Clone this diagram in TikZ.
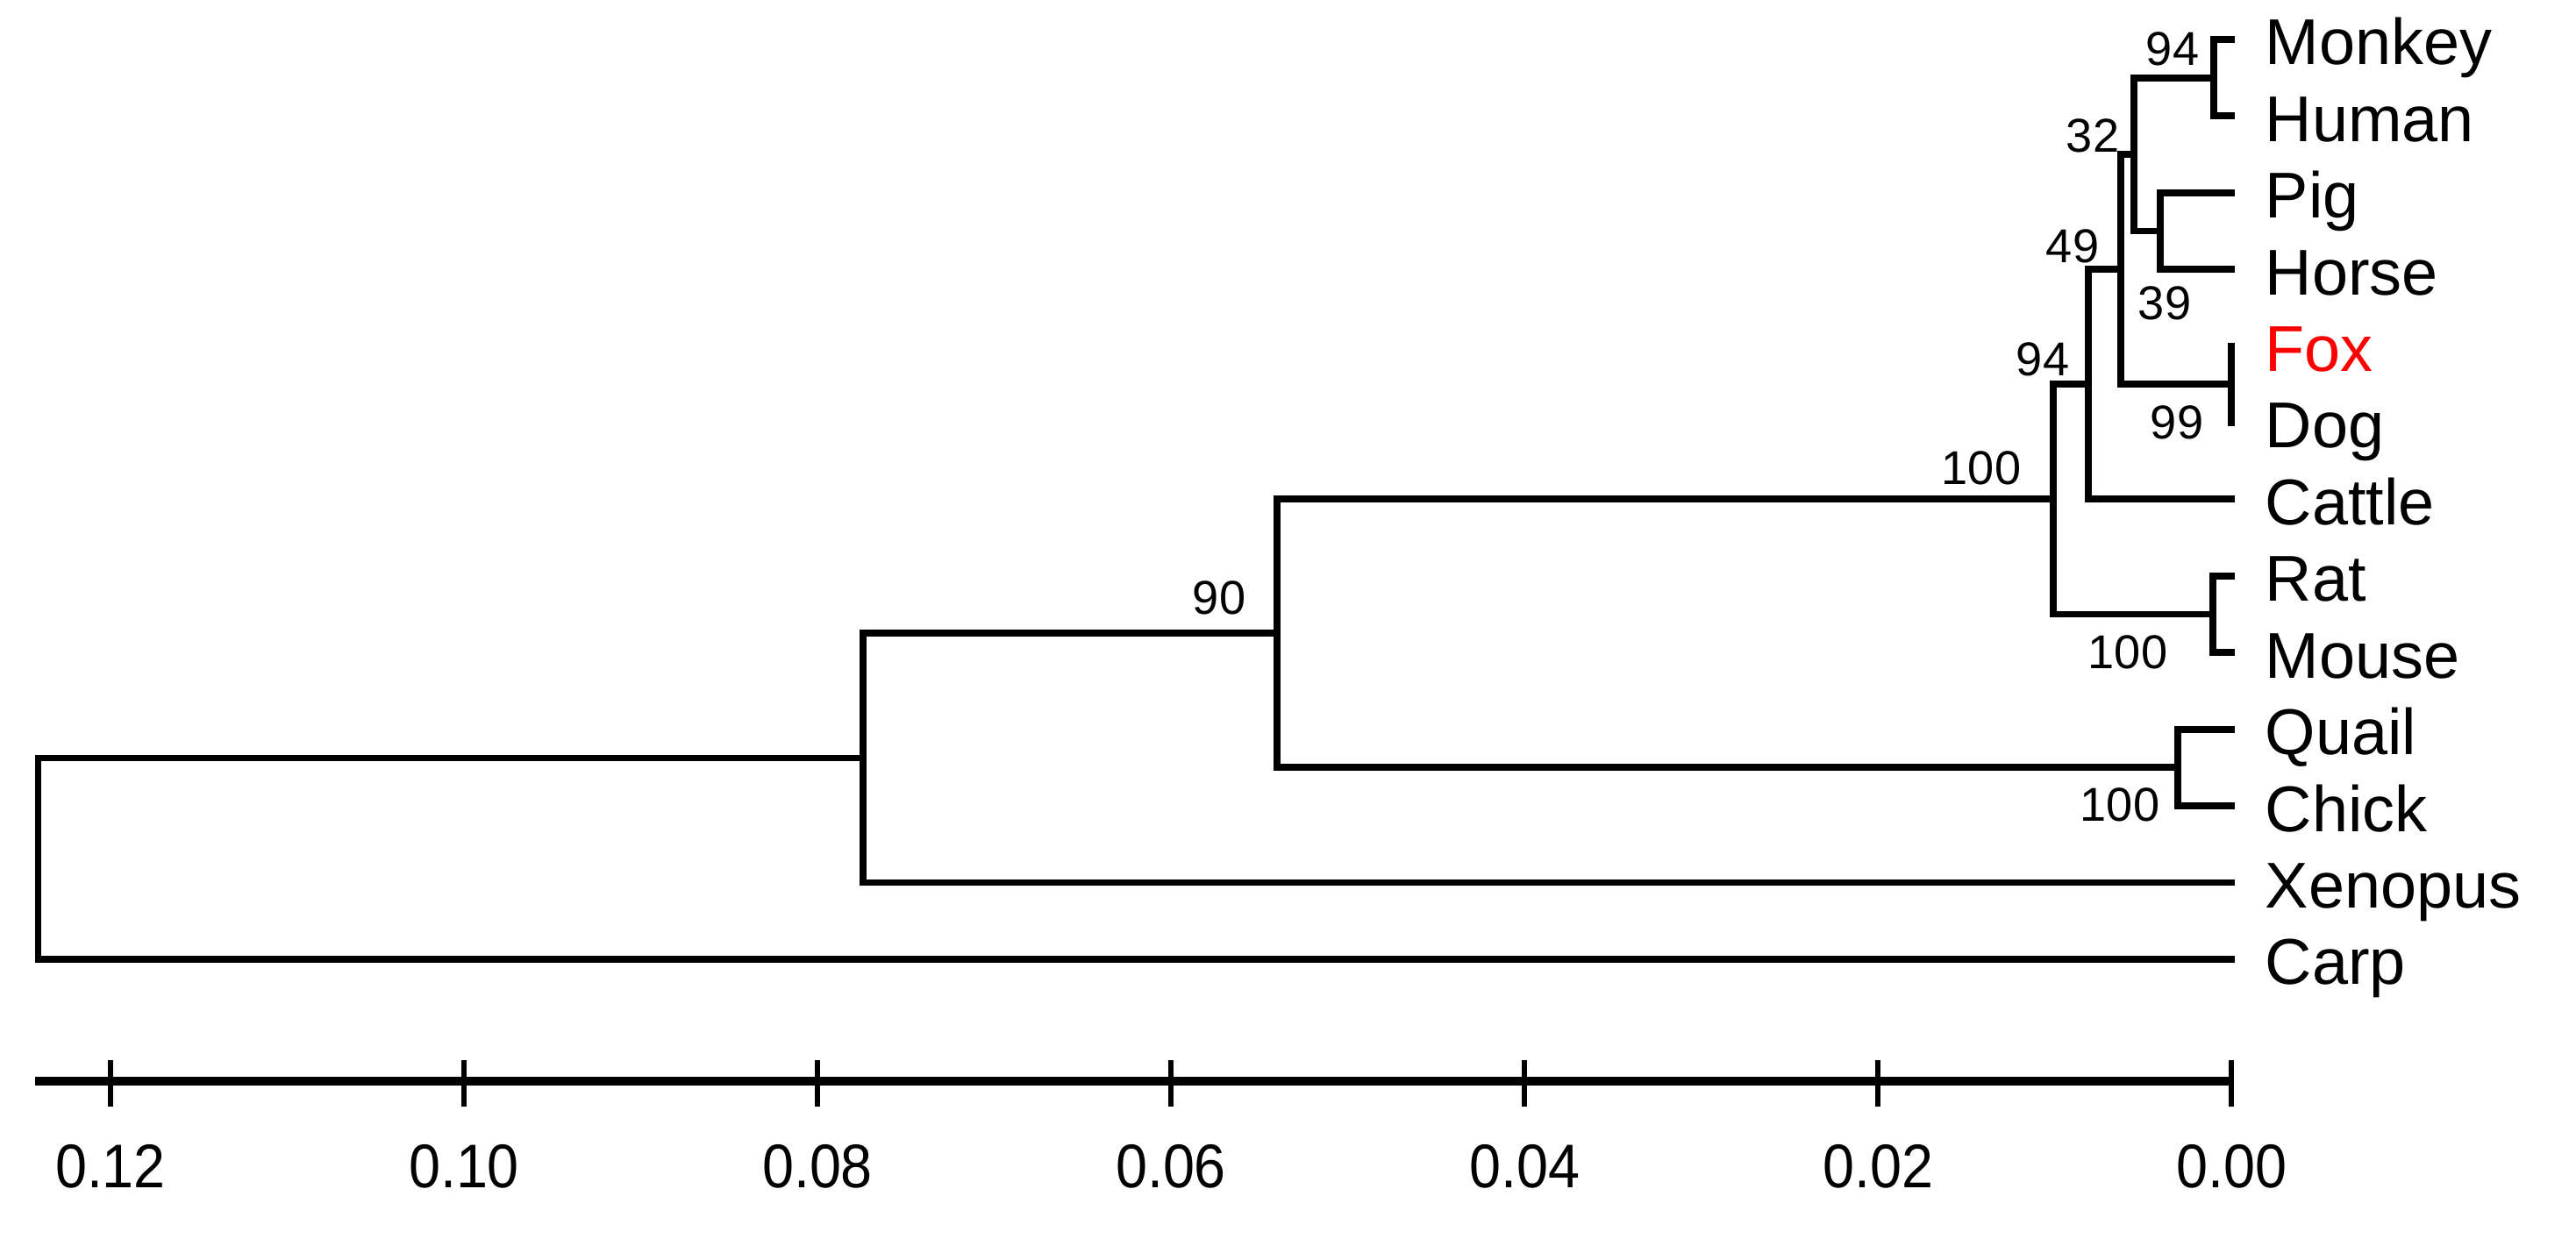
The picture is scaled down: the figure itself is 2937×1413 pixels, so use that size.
\documentclass[tikz,border=0pt]{standalone}
\usepackage{fontspec}
\setmainfont{Liberation Sans}
\definecolor{foxred}{RGB}{255,0,0}
\begin{document}
\begin{tikzpicture}[x=0.01cm,y=-0.01cm,
  branch/.style={line width=0.078cm,line cap=rect,line join=miter},
  axisline/.style={line width=0.1cm},
  axtick/.style={line width=0.06cm},
  leaf/.style={anchor=base west,inner sep=0pt,font=\fontsize{21}{24}\selectfont},
  boot/.style={inner sep=0pt,font=\fontsize{15.4}{18}\selectfont},
  axlab/.style={inner sep=0pt,font=\fontsize{20}{24}\selectfont}]
\useasboundingbox (0,0) rectangle (2937,1413);
% leaf tips
\coordinate (tMonkey)  at (2544,45);
\coordinate (tHuman)   at (2544,132.4);
\coordinate (tPig)     at (2544,219.8);
\coordinate (tHorse)   at (2544,307.2);
\coordinate (tFox)     at (2544,394.6);
\coordinate (tDog)     at (2544,482);
\coordinate (tCattle)  at (2544,569.4);
\coordinate (tRat)     at (2544,656.8);
\coordinate (tMouse)   at (2544,744.2);
\coordinate (tQuail)   at (2544,831.6);
\coordinate (tChick)   at (2544,919);
\coordinate (tXenopus) at (2544,1006.4);
\coordinate (tCarp)    at (2544,1093.8);
% internal nodes
\coordinate (MH)   at (2524,88.7);
\coordinate (PH)   at (2463,263.5);
\coordinate (N32)  at (2433,176.1);
\coordinate (FD)   at (2544,438.3);
\coordinate (N49)  at (2418,307.2);
\coordinate (N94)  at (2381,438.3);
\coordinate (RM)   at (2523,700.5);
\coordinate (N100) at (2341,569.4);
\coordinate (QC)   at (2483,875.3);
\coordinate (N90)  at (1456,722.4);
\coordinate (NX)   at (984,864.4);
\coordinate (root) at (43.5,979.1);
% branches
\draw[branch] (tMonkey) -| (MH) |- (tHuman);
\draw[branch] (tPig) -| (PH) |- (tHorse);
\draw[branch] (MH) -| (N32) |- (PH);
\draw[branch] (tFox) -- (FD) -- (tDog);
\draw[branch] (N32) -| (N49) |- (FD);
\draw[branch] (N49) -| (N94) |- (tCattle);
\draw[branch] (tRat) -| (RM) |- (tMouse);
\draw[branch] (N94) -| (N100) |- (RM);
\draw[branch] (tQuail) -| (QC) |- (tChick);
\draw[branch] (N100) -| (N90) |- (QC);
\draw[branch] (N90) -| (NX) |- (tXenopus);
\draw[branch] (NX) -| (root) |- (tCarp);
% leaf labels
\node[leaf] (lMonkey)  at (2582,74)     {Monkey};
\node[leaf] (lHuman)   at (2582,161.4)  {Human};
\node[leaf] (lPig)     at (2582,248.8)  {Pig};
\node[leaf] (lHorse)   at (2582,336.2)  {Horse};
\node[leaf,text=foxred] (lFox) at (2582,423.6) {Fox};
\node[leaf] (lDog)     at (2582,511)    {Dog};
\node[leaf] (lCattle)  at (2582,598.4)  {Cattle};
\node[leaf] (lRat)     at (2582,685.8)  {Rat};
\node[leaf] (lMouse)   at (2582,773.2)  {Mouse};
\node[leaf] (lQuail)   at (2582,860.6)  {Quail};
\node[leaf] (lChick)   at (2582,948)    {Chick};
\node[leaf] (lXenopus) at (2582,1035.4) {Xenopus};
\node[leaf] (lCarp)    at (2582,1122.8) {Carp};
% bootstrap values
\node[boot] (b1)  at (2477,56)  {94};
\node[boot] (b2)  at (2386,155) {32};
\node[boot] (b3)  at (2363,281) {49};
\node[boot] (b4)  at (2468,346) {39};
\node[boot] (b5)  at (2329,410) {94};
\node[boot] (b6)  at (2482,482) {99};
\node[boot] (b7)  at (2259,534) {100};
\node[boot] (b8)  at (1390,682) {90};
\node[boot] (b9)  at (2426,744) {100};
\node[boot] (b10) at (2417,918) {100};
% scale axis
\coordinate (axL) at (40,1233);
\coordinate (axR) at (2544,1233);
\draw[axisline] (axL) -- (axR);
\foreach \k/\lab in {0/0.00,1/0.02,2/0.04,3/0.06,4/0.08,5/0.10,6/0.12}{
  \coordinate (tkT\k) at ({2544-403*\k},1209);
  \coordinate (tkB\k) at ({2544-403*\k},1262);
  \draw[axtick] (tkT\k) -- (tkB\k);
  \node[axlab] (al\k) at ({2544-403*\k},1330) {\scalebox{0.92}[1]{\lab}};
}
\end{tikzpicture}
\end{document}
